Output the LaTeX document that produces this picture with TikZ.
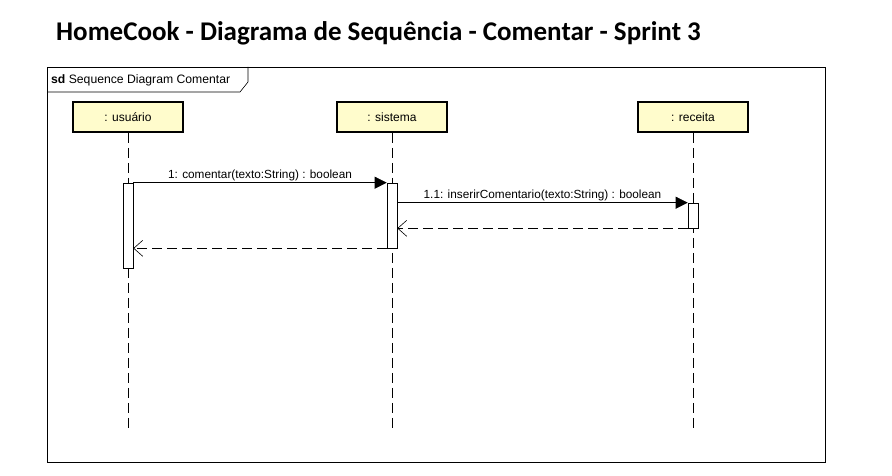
\documentclass[tikz,border=0pt]{standalone}
\usepackage{fontspec}
\setmainfont{Liberation Sans}
\newfontfamily\titlefont{Carlito}
\usetikzlibrary{arrows.meta}
\begin{document}
\begin{tikzpicture}[x=1pt,y=-1pt,
  lifebox/.style={draw,line width=1.6pt,fill=yellow!20,minimum width=110pt,minimum height=30pt,inner sep=0pt,font=\fontsize{12}{14}\selectfont},
  lifeline/.style={dash pattern=on 10pt off 5pt,line width=0.6pt},
  actbox/.style={draw,fill=white,line width=0.6pt,minimum width=10pt,inner sep=0pt},
  callmsg/.style={line width=0.6pt,-{Triangle[length=12pt,width=12pt]}},
  retmsg/.style={line width=0.6pt,dash pattern=on 10pt off 5pt,-{Straight Barb[length=9pt,width=16pt,line width=0.6pt]}},
  msglabel/.style={font=\fontsize{11.8}{14}\selectfont,inner sep=1pt,anchor=south}
]
\useasboundingbox (0,0) rectangle (892,476);
\fill[white] (0,0) rectangle (892,476);
% title
\node[anchor=west,inner sep=0pt,font=\titlefont\bfseries\fontsize{27}{30}\selectfont] (title) at (56,33) {HomeCook - Diagrama de Sequência - Comentar - Sprint 3};
% frame
\draw[line width=0.8pt] (47,67) rectangle (825,462);
\draw[line width=0.6pt] (47,92) -- (240,92) -- (248,82) -- (248,67);
\node[anchor=west,inner sep=0pt,font=\fontsize{12.2}{14}\selectfont] (frametitle) at (51,80) {\textbf{sd} Sequence Diagram Comentar};
% lifelines
\node[lifebox] (u) at (128,117) {: usuário};
\node[lifebox] (s) at (392,117) {: sistema};
\node[lifebox] (r) at (693,117) {: receita};
\coordinate (ue) at (128,432);
\coordinate (se) at (392,432);
\coordinate (re) at (693,432);
\draw[lifeline] (u.south) -- (ue);
\draw[lifeline] (s.south) -- (se);
\draw[lifeline] (r.south) -- (re);
% activations
\node[actbox,minimum height=85pt] (ua) at (128,225.5) {};
\node[actbox,minimum height=65pt] (sa) at (392,215.5) {};
\node[actbox,minimum height=25pt] (ra) at (693,215.5) {};
% messages
\draw[callmsg] (ua.north east) -- (sa.north west) node[msglabel,midway,above=0pt] {1: comentar(texto:String) : boolean};
\draw[callmsg] ([yshift=-20pt]sa.north east) -- (ra.north west) node[msglabel,midway,above=0pt] {1.1: inserirComentario(texto:String) : boolean};
\draw[retmsg] (ra.south west) -- (sa.east |- ra.south west);
\draw[retmsg] (sa.south west) -- (ua.east |- sa.south west);
\end{tikzpicture}
\end{document}
